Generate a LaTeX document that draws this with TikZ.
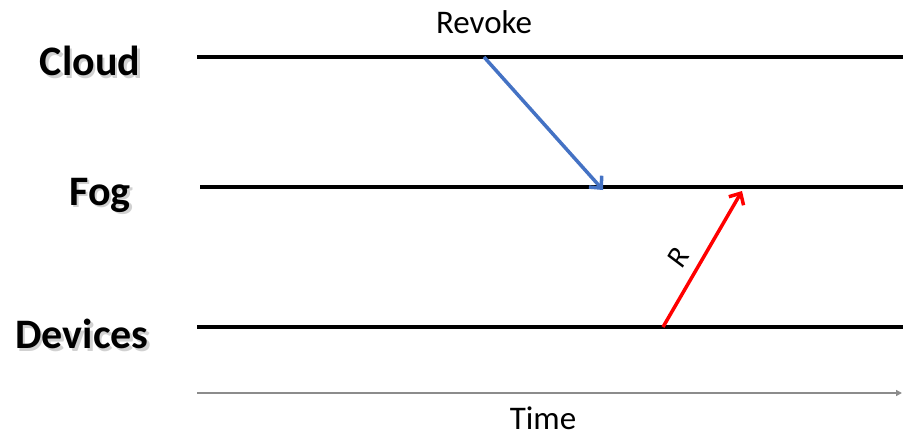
\documentclass[tikz,border=0pt]{standalone}
\usepackage{fontspec}
\setmainfont{Carlito}
\usetikzlibrary{arrows.meta}
\definecolor{msgblue}{HTML}{4472C4}
\definecolor{axisgray}{HTML}{8C8C8C}
\tikzset{
  lifeline/.style={line width=3.5pt, black},
  tierlabel/.style={font=\fontsize{42}{42}\selectfont\bfseries, inner sep=0pt},
  tiershadow/.style={font=\fontsize{42}{42}\selectfont\bfseries, inner sep=0pt, text=black, opacity=0.18},
  plainlabel/.style={font=\fontsize{33}{33}\selectfont, inner sep=0pt},
  msg/.style={line width=3.5pt, -{Straight Barb[length=9pt, width=17pt, line width=3.5pt]}},
}
% tier name with a soft drop shadow: name, x, y, text
\newcommand{\tier}[4]{%
  \node[tiershadow] at (#2+2.5,#3+2.5) {#4};
  \node[tierlabel] (#1) at (#2,#3) {#4};}
\begin{document}
\begin{tikzpicture}[x=1pt, y=-1pt]
  \useasboundingbox (0,0) rectangle (903,437);

  % lifeline end points
  \coordinate (cloudL) at (197,57);  \coordinate (cloudR) at (903,57);
  \coordinate (fogL)   at (200,187); \coordinate (fogR)   at (903,187);
  \coordinate (devL)   at (197,327); \coordinate (devR)   at (903,327);
  \coordinate (timeL)  at (197,393); \coordinate (timeR)  at (902,393);

  % tier names
  \tier{cloud}{90}{61}{Cloud}
  \tier{fog}{100}{195}{Fog}
  \tier{dev}{82}{334}{Devices}

  % lifelines
  \draw[lifeline] (cloudL) -- (cloudR);
  \draw[lifeline] (fogL) -- (fogR);
  \draw[lifeline] (devL) -- (devR);

  % time axis
  \draw[axisgray, line width=1.5pt, -{Triangle[length=6pt, width=6pt]}] (timeL) -- (timeR);
  \node[plainlabel] (time) at (543,418) {Time};

  % revoke message from cloud down to fog
  \coordinate (revS) at (484,57);
  \coordinate (revE) at (603,190);
  \node[plainlabel] (revoke) at (484,22) {Revoke};
  \draw[msg, msgblue] (revS) -- (revE);

  % response from devices up to fog
  \coordinate (rS) at (663,327);
  \coordinate (rE) at (742,191);
  \draw[msg, red] (rS) -- (rE);
  \node[plainlabel, font=\fontsize{30}{30}\selectfont\itshape, rotate=60] (rlab) at (678,258) {R};
\end{tikzpicture}
\end{document}
